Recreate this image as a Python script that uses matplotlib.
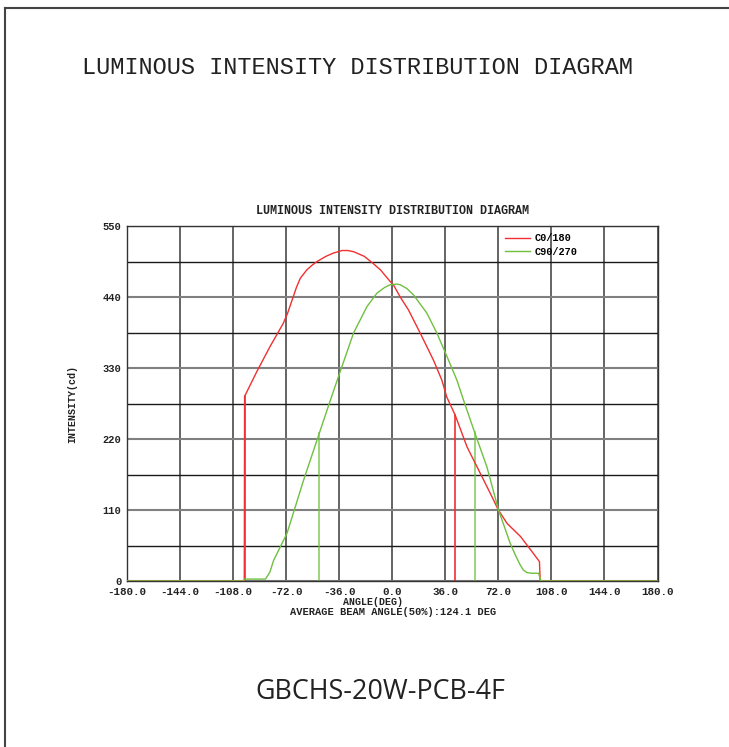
import matplotlib
matplotlib.use('Agg')
import matplotlib.pyplot as plt
from matplotlib.lines import Line2D

# C0/180 curve (angle in deg, intensity in cd)
c0_angles = [-180, -100.4, -100.2, -92, -83, -74, -71, -68, -65, -62.4, -58, -54, -51,
             -45, -40, -34, -30, -26, -19, -13, -8, -1.4, 1, 5.4, 11, 19, 28, 33.7, 37,
             42.7, 50.7, 57.5, 66.5, 72, 78, 87, 95, 99.9, 100.4, 180]
c0_values = [0, 0, 286, 324, 363, 399, 415, 435, 455, 469, 482, 490, 495,
             503, 508, 512, 512, 510, 503, 492, 482, 464, 458, 440, 420, 384, 342, 311, 285,
             257, 208, 177, 136, 110, 89, 69, 45, 30, 0, 0]

# C90/270 curve
c90_angles = [-180, -101, -100.5, -86, -83, -80.5, -71.4, -60.2, -49.5, -42, -36, -26.3,
              -17.2, -10.4, -5, -1.4, 3, 5.4, 10, 14.5, 23.5, 30.3, 37.1, 43.9, 48.4,
              55.8, 64.2, 72.1, 80.1, 84, 86.8, 89, 91.4, 95, 99.3, 100.9, 180]
c90_values = [0, 0, 3, 3, 14, 32, 74, 156, 229, 280, 320, 384,
              425, 446, 455, 459, 460, 459, 453, 443, 415, 384, 348, 311, 280,
              231, 177, 110, 58, 38, 25, 17, 13, 12, 12, 0, 0]

# 50% beam angle markers
c0_half = [(-100.2, 286), (42.7, 257)]
c90_half = [(-49.5, 229), (55.9, 231)]

x_ticks = [-180, -144, -108, -72, -36, 0, 36, 72, 108, 144, 180]
y_ticks = [0, 110, 220, 330, 440, 550]
y_grid = [0, 55, 110, 165, 220, 275, 330, 385, 440, 495, 550]

mono = 'Liberation Mono'
red = '#f03030'
green = '#70c040'
ink = '#222222'

fig = plt.figure(figsize=(7.29, 7.47), dpi=100)

# outer frame (top and left edge only)
fig.add_artist(Line2D([4.5 / 729, 4.5 / 729], [0, 1 - 8 / 747], color='#444444', lw=1.5))
fig.add_artist(Line2D([4.5 / 729, 1], [1 - 8 / 747, 1 - 8 / 747], color='#444444', lw=1.5))

fig.text(357 / 729, 1 - 67 / 747, 'LUMINOUS INTENSITY DISTRIBUTION DIAGRAM',
         family=mono, fontsize=17, ha='center', va='center', color=ink)
fig.text(380.5 / 729, 1 - 692 / 747, 'GBCHS-20W-PCB-4F', family='Open Sans',
         fontsize=19.4, ha='center', va='center', color=ink)

ax = fig.add_axes([127 / 729, 1 - 581 / 747, 530.5 / 729, 355 / 747])
ax.set_xlim(-180, 180)
ax.set_ylim(0, 550)

# grid
for xv in x_ticks:
    ax.axvline(xv, color='#3a3a3a', lw=1.1, zorder=1)
for yv in y_grid:
    if yv in y_ticks:
        ax.axhline(yv, color='#808080', lw=1.5, zorder=1)
    else:
        ax.axhline(yv, color='#1a1a1a', lw=1.0, zorder=1)

ax.plot(c0_angles, c0_values, color=red, lw=1.0, label='C0/180', zorder=3)
ax.plot(c90_angles, c90_values, color=green, lw=1.0, label='C90/270', zorder=3)
for a, v in c0_half:
    ax.plot([a, a], [0, v], color=red, lw=1.2, zorder=2)
for a, v in c90_half:
    ax.plot([a, a], [0, v], color=green, lw=1.2, zorder=2, alpha=0.8)

for s in ax.spines.values():
    s.set_color('#333333')
    s.set_linewidth(1.0)

ax.set_xticks(x_ticks)
ax.set_xticklabels(['%.1f' % t for t in x_ticks])
ax.set_yticks(y_ticks)
ax.tick_params(length=0, pad=4, labelcolor=ink)
ax.tick_params(axis='x', labelsize=7.8)
ax.tick_params(axis='y', labelsize=7.5)
for lab in ax.get_xticklabels() + ax.get_yticklabels():
    lab.set_family(mono)
    lab.set_fontweight('bold')

ax.set_title('LUMINOUS INTENSITY DISTRIBUTION DIAGRAM', family=mono,
             fontweight='bold', fontsize=8.5, pad=9, color=ink)

fig.text(373 / 729, 1 - 602 / 747, 'ANGLE(DEG)', family=mono, fontweight='bold',
         fontsize=7.2, ha='center', va='center', color=ink)
fig.text(393 / 729, 1 - 612 / 747, 'AVERAGE BEAM ANGLE(50%):124.1 DEG', family=mono,
         fontweight='bold', fontsize=7.45, ha='center', va='center', color=ink)
fig.text(72 / 729, 1 - 404 / 747, 'INTENSITY(cd)', family=mono, fontweight='bold',
         fontsize=7.2, ha='center', va='center', rotation=90, color=ink)

leg = ax.legend(loc='upper left', bbox_to_anchor=(0.695, 1.005), frameon=False,
                handlelength=2.4, handletextpad=0.45, labelspacing=0.3,
                prop={'family': mono, 'weight': 'bold', 'size': 7.4})

fig.savefig('out.png', dpi=100, facecolor='white')
